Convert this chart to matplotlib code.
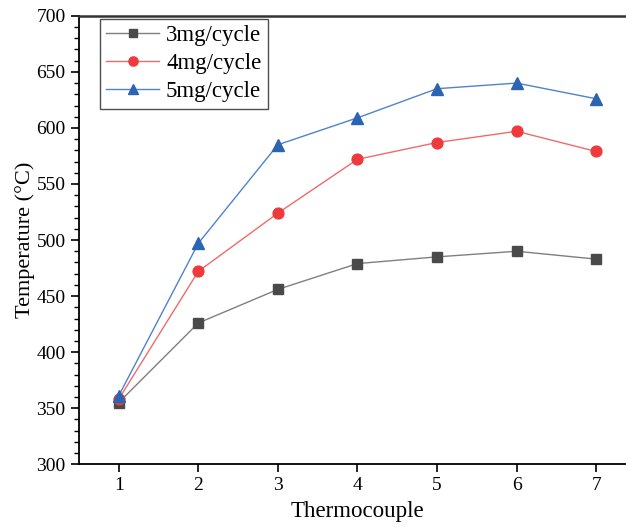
import numpy as np
import matplotlib
matplotlib.use("Agg")
from matplotlib import pyplot as plt
from matplotlib.ticker import MultipleLocator

plt.rcParams['font.family'] = ['Liberation Serif', 'DejaVu Serif']

thermocouple = [1, 2, 3, 4, 5, 6, 7]
t_3mg = [355, 426, 456, 479, 485, 490, 483]
t_4mg = [358, 472, 524, 572, 587, 597, 579]
t_5mg = [361, 497, 585, 609, 635, 640, 626]

fig = plt.figure(figsize=(6.26, 5.27), dpi=100)
ax = fig.add_axes([0.126, 0.119, 0.89, 0.851])

ax.plot(thermocouple, t_3mg, color='#7f7f7f', lw=1, marker='s', ms=7,
        mfc='#4a4a4a', mec='#4a4a4a', label='3mg/cycle')
ax.plot(thermocouple, t_4mg, color='#f06a6a', lw=1, marker='o', ms=7.8,
        mfc='#ee3a3d', mec='#ee3a3d', label='4mg/cycle')
ax.plot(thermocouple, t_5mg, color='#4f82cf', lw=1, marker='^', ms=8.5,
        mfc='#2c64b4', mec='#2c64b4', label='5mg/cycle')

ax.set_xlim(0.5, 7.5)
ax.set_ylim(300, 700)
ax.xaxis.set_major_locator(MultipleLocator(1))
ax.yaxis.set_major_locator(MultipleLocator(50))
ax.yaxis.set_minor_locator(MultipleLocator(10))
ax.tick_params(axis='both', which='major', direction='out', labelsize=14, width=1.2, length=6)
ax.tick_params(axis='y', which='minor', direction='out', width=1, length=3.5)
ax.spines['right'].set_visible(False)
ax.spines['top'].set_color('#333333')
ax.spines['top'].set_linewidth(1.8)
for s in ['left', 'bottom']:
    ax.spines[s].set_linewidth(1.3)

ax.set_xlabel('Thermocouple', fontsize=16.5, labelpad=5)
ax.set_ylabel('Temperature (°C)', fontsize=16, labelpad=1)

leg = ax.legend(loc='upper left', bbox_to_anchor=(0.038, 0.993), borderaxespad=0,
                fontsize=16.5, frameon=True, fancybox=False, edgecolor='#222222',
                handlelength=2.3, borderpad=0.28, labelspacing=0.3, handletextpad=0.3,
                markerscale=0.85)
leg.get_frame().set_linewidth(1)

fig.savefig('out.png', dpi=100)
